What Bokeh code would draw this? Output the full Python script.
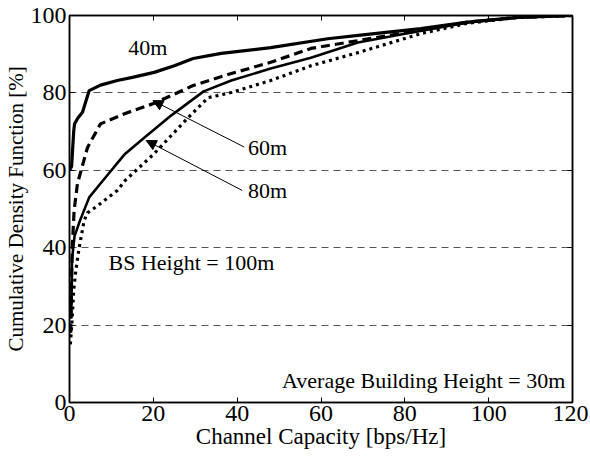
from bokeh.plotting import figure
from bokeh.models import LinearAxis, Arrow, NormalHead, Label, FixedTicker
from bokeh.embed import file_html
from bokeh.resources import INLINE

# Data
x40 = [0, 0.5, 1.0, 1.2, 2, 3.1, 4.7, 7.4, 11.4, 15, 20.2, 25, 29.5, 36.2, 48, 61.6, 70, 83.8, 95, 107, 120]
y40 = [60, 61, 70, 72, 73.5, 75, 80.6, 82, 83.2, 84, 85.3, 87, 88.9, 90.2, 91.7, 94, 95, 96.6, 98.3, 99.5, 100]

x60 = [0.3, 0.5, 0.7, 1.1, 1.9, 4.3, 7.4, 13.3, 20.2, 29.5, 38.6, 48, 57.6, 68.8, 80, 95, 107, 120]
y60 = [18, 32, 41, 49.6, 56.6, 65.9, 72, 74.7, 77.3, 81.9, 85, 87.9, 91.5, 93.5, 95.5, 98.3, 99.5, 100]

x80 = [0.4, 0.6, 1.2, 2.5, 4.7, 7.4, 10.6, 13.3, 17.9, 24.3, 32, 38.6, 48, 57.6, 68.8, 80, 95, 107, 120]
y80 = [22, 37, 43, 47, 53, 56.6, 60.8, 64.3, 68.5, 74.2, 80.4, 83.2, 86.3, 89.1, 93, 95.3, 98.2, 99.5, 100]

x100 = [0.2, 0.6, 1.0, 1.5, 2.3, 3.5, 4.3, 6.9, 8.3, 11.4, 13.3, 20.2, 28.3, 33.1, 38.6, 48, 57.6, 68.8, 83.8, 95, 107, 120]
y100 = [15, 21, 29, 34, 40, 47, 49, 51, 52.2, 54.8, 57.4, 64.3, 73.6, 78.8, 80.1, 83.2, 87, 90.4, 95.3, 98, 99.5, 100]

x_ticks = [0, 20, 40, 60, 80, 100, 120]
y_ticks = [0, 20, 40, 60, 80, 100]

FONT = "'Liberation Serif', 'Times New Roman', serif"

p = figure(width=588, height=459, x_range=(0, 120), y_range=(0, 100),
           output_backend="svg", toolbar_location=None,
           min_border_left=68, min_border_right=16, min_border_top=15, min_border_bottom=57)

p.outline_line_color = "black"
p.outline_line_width = 1.5
p.xgrid.grid_line_color = None
p.ygrid.ticker = FixedTicker(ticks=[20, 40, 60, 80])
p.ygrid.grid_line_color = "#555555"
p.ygrid.grid_line_dash = "7 5"
p.ygrid.grid_line_width = 1

for ax, ticks in ((p.xaxis[0], x_ticks), (p.yaxis[0], y_ticks)):
    ax.ticker = FixedTicker(ticks=ticks)
    ax.major_tick_in = 5
    ax.major_tick_out = 0
    ax.minor_tick_line_color = None
    ax.major_label_text_font = FONT
    ax.major_label_text_font_size = "24px"
    ax.major_label_text_color = "black"
    ax.axis_label_text_font = FONT
    ax.axis_label_text_font_style = "normal"
    ax.axis_label_text_color = "black"
    ax.axis_line_width = 1.5
    ax.major_label_standoff = 3
    ax.axis_label_standoff = 0

p.xaxis.axis_label = "Channel Capacity [bps/Hz]"
p.yaxis.axis_label = "Cumulative Density Function [%]"
p.xaxis.axis_label_text_font_size = "23px"
p.yaxis.axis_label_text_font_size = "21px"

top = LinearAxis(ticker=FixedTicker(ticks=x_ticks), major_tick_in=5, major_tick_out=0,
                 minor_tick_line_color=None, major_label_text_color=None, axis_line_width=1.5)
right = LinearAxis(ticker=FixedTicker(ticks=y_ticks), major_tick_in=5, major_tick_out=0,
                   minor_tick_line_color=None, major_label_text_color=None, axis_line_width=1.5)
p.add_layout(top, "above")
p.add_layout(right, "right")

p.line(x40, y40, line_color="black", line_width=3.2)
p.line(x60, y60, line_color="black", line_width=3.2, line_dash="9 5")
p.line(x80, y80, line_color="black", line_width=2.6)
p.line(x100, y100, line_color="black", line_width=3.2, line_dash="3 4")

head = dict(fill_color="black", line_color="black", size=10)
p.add_layout(Arrow(end=NormalHead(**head), x_start=41.7, y_start=66, x_end=19.9, y_end=78,
                   line_width=1, line_color="black"))
p.add_layout(Arrow(end=NormalHead(**head), x_start=41.2, y_start=54.8, x_end=18.3, y_end=67.7,
                   line_width=1, line_color="black"))

def lab(x, y, t, align="left"):
    p.add_layout(Label(x=x, y=y, text=t, text_font=FONT, text_font_size="22px",
                       text_align=align, text_baseline="middle", text_color="black"))

lab(14, 91.7, "40m")
lab(42.6, 65.9, "60m")
lab(42.6, 54.8, "80m")
lab(9.3, 36.2, "BS Height = 100m")
lab(118.3, 5.7, "Average Building Height = 30m", align="right")

open("out.html", "w").write(file_html(p, INLINE))
